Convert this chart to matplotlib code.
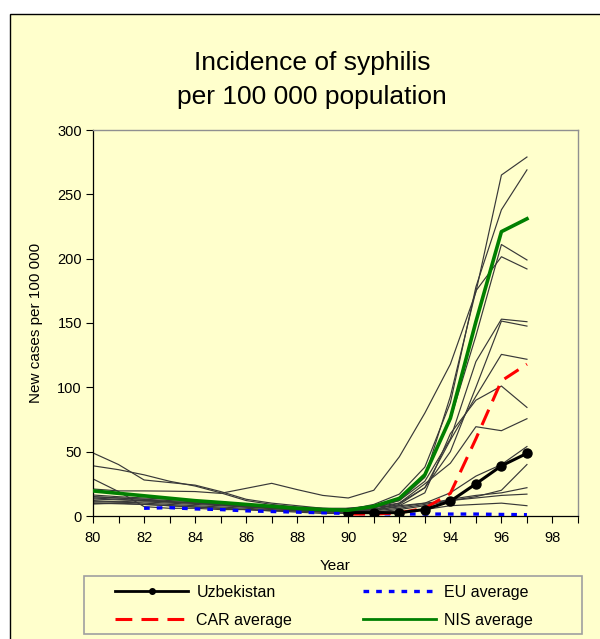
import numpy as np
import matplotlib
matplotlib.use("Agg")
import matplotlib.pyplot as plt
from matplotlib.patches import Rectangle
from matplotlib.lines import Line2D

plt.rcParams['font.family'] = ['Liberation Sans', 'DejaVu Sans']

# ---------------- data ----------------
years = list(range(80, 98))

country_01 = [21, 19.5, 19.5, 19.3, 19, 17.6, 21.5, 25.4, 20.5, 16, 14, 20, 46, 80, 118, 174, 265, 279]
country_02 = [16.3, 15, 14, 13, 12, 11, 9, 7.5, 6, 5, 5, 9, 17, 38, 88, 178, 238, 269]
country_03 = [15, 14, 13, 12, 11, 9, 8, 6, 5, 4, 4, 7, 13, 33, 75, 140, 211, 199]
country_04 = [13.2, 12.5, 12, 11, 10, 9, 7, 6, 5, 4, 3.5, 6, 12, 30, 93, 175, 201.5, 192]
country_05 = [49, 40, 28, 26, 24, 19, 13, 10, 8, 6, 6, 8, 12, 27, 60, 120, 153, 151]
country_06 = [39, 36, 32, 27, 23.3, 18, 12, 9, 7, 6, 5, 7, 10, 22, 50, 100, 151.5, 147.6]
country_07 = [11.1, 11, 12, 11, 10, 9, 8, 6, 5, 4, 3, 5, 9, 22, 59, 93, 125.6, 121.8]
country_08 = [9.3, 10, 11, 10, 9, 8, 7, 6, 5, 4, 3, 4, 8, 18, 64, 90, 101, 84.4]
country_09 = [28.8, 19, 7.3, 6, 6, 5, 5, 4, 4, 3, 3, 5, 10, 25, 41, 69.4, 66.3, 75.6]
country_10 = [15, 14, 13, 11, 10, 9, 8, 7, 6, 5, 4, 5, 7, 10, 18, 31, 40, 54]
country_11 = [12, 11, 10, 9, 8, 7, 6, 5, 4, 3, 3, 3, 5, 8, 12, 15, 20, 40]
country_12 = [14, 13, 12, 11, 10, 8.5, 7, 6, 5, 4, 3.5, 4, 6, 9, 13, 16, 18, 22]
country_13 = [10, 9.5, 9, 8, 7, 6, 5, 4.5, 4, 3.5, 6, 7, 8, 10, 12, 14, 16, 17]
country_14 = [10, 10, 9, 8, 7, 6, 5, 4, 3, 2, 2, 2, 3, 5, 8, 9, 10, 8]

uzb_years = list(range(90, 98))
uzbekistan = [2.6, 2.6, 2.6, 5, 11.5, 25, 39, 48.7]

car_years = list(range(90, 98))
car_average = [1.5, 1.5, 2.5, 6, 17.6, 60, 105, 118]

eu_years = list(range(82, 98))
eu_average = [6, 6.5, 5.5, 5, 4, 3.5, 3, 2.5, 2, 1.8, 1.5, 1.5, 1.5, 1.5, 1.2, 1]

nis_average = [19.5, 17.6, 15.7, 13.8, 11.9, 10.5, 9, 7.5, 6, 5, 4.5, 7.5, 13.7, 32, 76, 151, 221, 231]

x_ticks = [80, 82, 84, 86, 88, 90, 92, 94, 96, 98]
y_ticks = [0, 50, 100, 150, 200, 250, 300]

title_text = "Incidence of syphilis\nper 100 000 population"
x_label = "Year"
y_label = "New cases per 100 000"
legend_labels = ["Uzbekistan", "CAR average", "EU average", "NIS average"]

# ---------------- figure ----------------
W, H = 600, 639
fig = plt.figure(figsize=(W / 100, H / 100), dpi=100, facecolor='white')

bg = '#FFFFCC'
panel = Rectangle((10 / W, -0.05), 1.2, (H - 14) / H + 0.05, transform=fig.transFigure,
                  facecolor=bg, edgecolor='black', linewidth=1.0, zorder=-10)
fig.patches.append(panel)

left, right, top, bottom = 93, 578, 130, 516
ax = fig.add_axes([left / W, (H - bottom) / H, (right - left) / W, (bottom - top) / H])
ax.set_facecolor(bg)

thin_kw = dict(color='#383838', linewidth=0.85, zorder=2)
for series in [country_01, country_02, country_03, country_04, country_05, country_06,
               country_07, country_08, country_09, country_10, country_11, country_12,
               country_13, country_14]:
    ax.plot(years, series, **thin_kw)

eu_style = (0, (1.7, 2.1))
car_style = (0, (5.5, 3.0))
ax.plot(eu_years, eu_average, color='#0000FF', linewidth=2.4,
        linestyle=eu_style, zorder=3, dash_capstyle='butt')
ax.plot(car_years, car_average, color='#FF0000', linewidth=2.2,
        linestyle=car_style, zorder=4, dash_capstyle='butt')
ax.plot(uzb_years, uzbekistan, color='black', linewidth=2.2,
        marker='o', markersize=6.5, zorder=5)
ax.plot(years, nis_average, color='#008000', linewidth=2.6, zorder=6)

ax.set_xlim(80, 99)
ax.set_ylim(0, 300)
ax.set_xticks(x_ticks)
ax.set_xticks(list(range(80, 100)), minor=True)
ax.set_yticks(y_ticks)
ax.tick_params(axis='both', which='both', direction='out', length=5, width=0.8,
               color='black', labelsize=10.5, pad=3)
ax.tick_params(axis='x', which='both', pad=6)
ax.tick_params(axis='x', which='minor', labelbottom=False)

for s in ['left', 'bottom']:
    ax.spines[s].set_color('black')
    ax.spines[s].set_linewidth(0.9)
for s in ['top', 'right']:
    ax.spines[s].set_color('#909090')
    ax.spines[s].set_linewidth(1.0)

ax.set_xlabel(x_label, fontsize=11, labelpad=10)
ax.set_ylabel(y_label, fontsize=11, labelpad=10)

fig.text(312 / W, 1 - 80 / H, title_text, ha='center', va='center',
         fontsize=19, linespacing=1.5)

# legend frame
frame = Rectangle((84 / W, (H - 634) / H), (582 - 84) / W, (634 - 576) / H,
                  transform=fig.transFigure, facecolor=bg, edgecolor='#A0A0A0',
                  linewidth=1.2, zorder=1)
fig.patches.append(frame)

h_uzb = Line2D([], [], color='black', linewidth=2.0, marker='o', markersize=4)
h_car = Line2D([], [], color='#FF0000', linewidth=2.2, linestyle=car_style)
h_eu = Line2D([], [], color='#0000FF', linewidth=2.4, linestyle=eu_style)
h_nis = Line2D([], [], color='#008000', linewidth=2.0)
leg = fig.legend([h_uzb, h_car, h_eu, h_nis], legend_labels, ncol=2,
                 loc='upper left', bbox_to_anchor=(115 / W, 1 - 585 / H),
                 fontsize=11.5, handlelength=4.6, handletextpad=0.5,
                 borderaxespad=0, borderpad=0, labelspacing=0.8, columnspacing=4.4,
                 frameon=False)
leg.set_zorder(2)

fig.savefig('out.png', dpi=100, facecolor='white')
